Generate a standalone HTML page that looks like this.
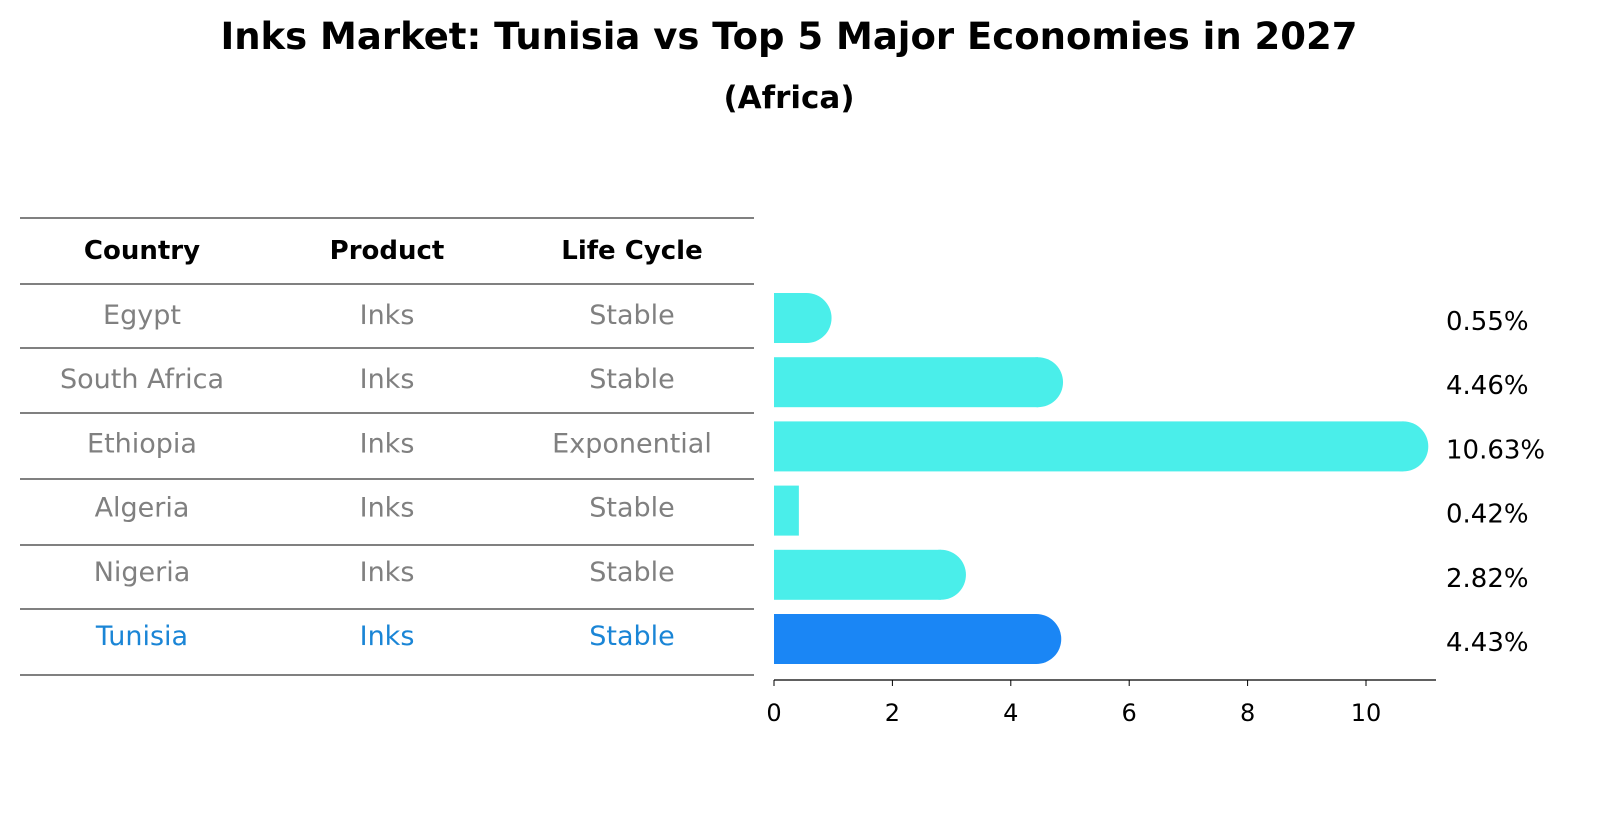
<!DOCTYPE html>
<html><head><meta charset="utf-8"><style>
body{margin:0;background:#fff;font-family:"DejaVu Sans","Liberation Sans",sans-serif}
</style></head><body>
<svg width="1604" height="823" xmlns="http://www.w3.org/2000/svg" font-family="DejaVu Sans, Liberation Sans, sans-serif">
<text x="789" y="49" text-anchor="middle" font-size="37" font-weight="bold">Inks Market: Tunisia vs Top 5 Major Economies in 2027</text>
<text x="789" y="108" text-anchor="middle" font-size="31" font-weight="bold">(Africa)</text>
<g id="table"></g>
<g id="bars"></g>
</svg>
<script>
const countries=["Egypt","South Africa","Ethiopia","Algeria","Nigeria","Tunisia"];
const products=["Inks","Inks","Inks","Inks","Inks","Inks"];
const lifeCycles=["Stable","Stable","Exponential","Stable","Stable","Stable"];
const values=[0.55,4.46,10.63,0.42,2.82,4.43];
const valueLabels=["0.55%","4.46%","10.63%","0.42%","2.82%","4.43%"];
const ticks=[0,2,4,6,8,10];
const NS="http://www.w3.org/2000/svg";
function mk(t,a,p){const e=document.createElementNS(NS,t);for(const k in a)e.setAttribute(k,a[k]);p.appendChild(e);return e;}
const tbl=document.getElementById('table'),bars=document.getElementById('bars');
const lineYs=[218,284,348,413,479,545,609,675];
lineYs.forEach(y=>{const l=mk('line',{x1:20,x2:754,y1:y,y2:y,stroke:'#000','stroke-width':1},tbl);

});
const colX=[142,387,632];
["Country","Product","Life Cycle"].forEach((h,i)=>{const t=mk('text',{x:colX[i],y:259,'text-anchor':'middle','font-size':26,'font-weight':'bold'},tbl);t.textContent=h;

});
const rowY=i=>318+i*64.2;
countries.forEach((c,i)=>{const last=i===countries.length-1;const col=last?'#1a85d6':'#808080';
[c,products[i],lifeCycles[i]].forEach((v,j)=>{const t=mk('text',{x:colX[j],y:rowY(i)+6,'text-anchor':'middle','font-size':27,fill:col},tbl);t.textContent=v;

});});
const x0=774,sx=59.2,xs=v=>x0+v*sx,bh=50;
values.forEach((v,i)=>{const y=rowY(i);const last=i===values.length-1;const col=last?'#1a86f5':'#4aeeea';
const g=mk('g',{},bars);


mk('rect',{x:x0,y:y-bh/2,width:xs(v)-x0,height:bh,fill:col},g);
if(v>0.5)mk('circle',{cx:xs(v),cy:y,r:bh/2,fill:col},g);
const t=mk('text',{x:1446,y:y+12,'font-size':26},bars);t.textContent=valueLabels[i];

});
const ax=mk('line',{x1:774,x2:1436,y1:680,y2:680,stroke:'#000','stroke-width':1.2},bars);


ticks.forEach(v=>{mk('line',{x1:xs(v),x2:xs(v),y1:680,y2:686,stroke:'#000'},bars);
const t=mk('text',{x:xs(v),y:721,'text-anchor':'middle','font-size':24},bars);t.textContent=v;

});
</script>
</body></html>
